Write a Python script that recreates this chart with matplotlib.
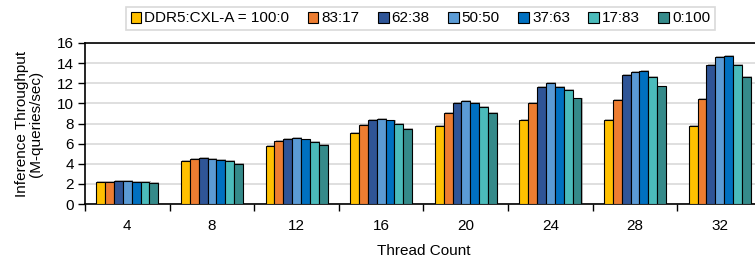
import matplotlib
matplotlib.use("Agg")
import matplotlib.pyplot as plt
import matplotlib.patheffects as pe
import numpy as np

plt.rcParams['font.family'] = ['Liberation Sans', 'DejaVu Sans']

threads = ["4", "8", "12", "16", "20", "24", "28", "32"]
series_names = ["DDR5:CXL-A = 100:0", "83:17", "62:38", "50:50", "37:63", "17:83", "0:100"]
colors = ["#FFC000", "#ED7D31", "#2F5597", "#5B9BD5", "#0070C0", "#4BBBBB", "#358A8A"]

r100_0 = [2.16, 4.29, 5.75, 7.04, 7.77, 8.34, 8.34, 7.77]
r83_17 = [2.23, 4.49, 6.25, 7.87, 9.04, 10.03, 10.33, 10.47]
r62_38 = [2.26, 4.55, 6.48, 8.34, 10.03, 11.63, 12.86, 13.82]
r50_50 = [2.26, 4.49, 6.54, 8.47, 10.23, 12.03, 13.09, 14.65]
r37_63 = [2.19, 4.39, 6.41, 8.31, 10.03, 11.66, 13.19, 14.72]
r17_83 = [2.16, 4.29, 6.18, 7.94, 9.67, 11.30, 12.62, 13.79]
r0_100 = [2.06, 3.99, 5.91, 7.44, 9.07, 10.50, 11.69, 12.62]
series = [r100_0, r83_17, r62_38, r50_50, r37_63, r17_83, r0_100]

fig = plt.figure(figsize=(7.55, 2.57), dpi=100)
ax = fig.add_axes([85/755, 1-204/257, (762-85)/755, (204-43)/257])

x = np.arange(len(threads))
n = len(series)
w = 0.1047
shadow = [pe.SimplePatchShadow(offset=(0.8, 0.6), shadow_rgbFace='#707070', alpha=0.5), pe.Normal()]
for i, (vals, name, c) in enumerate(zip(series, series_names, colors)):
    pos = x + (i - (n - 1) / 2) * w
    bars = ax.bar(pos, vals, width=w, color=c, edgecolor='black', linewidth=0.8,
                  label=name, zorder=3)
    for b in bars:
        b.set_path_effects(shadow)

ax.set_xlim(-0.5, len(threads) - 0.5)
ax.set_ylim(0, 16)
ax.set_yticks(np.arange(0, 17, 2))
ax.yaxis.grid(True, color='#d9d9d9', linewidth=1.2, zorder=0)
ax.set_axisbelow(True)

ax.set_xticks(np.arange(-0.5, len(threads), 1.0))
ax.set_xticklabels([])
ax.set_xticks(x, minor=True)
ax.set_xticklabels(threads, minor=True)
ax.tick_params(axis='x', which='major', length=5, width=1, color='black', direction='out')
ax.tick_params(axis='x', which='minor', length=0, pad=11, labelsize=11)
ax.tick_params(axis='y', length=5, width=1, labelsize=11, pad=3)

for s in ['left', 'top', 'bottom']:
    ax.spines[s].set_color('black')
    ax.spines[s].set_linewidth(1.2)
ax.spines['right'].set_visible(False)

ax.set_ylabel("Inference Throughput\n(M-queries/sec)", fontsize=11, labelpad=10, linespacing=1.0)
ax.set_xlabel("Thread Count", fontsize=11, labelpad=8)

leg = fig.legend(loc='center', bbox_to_anchor=(420.5/755, 1-18.5/257), ncol=7, fontsize=11,
                 frameon=True, fancybox=False, edgecolor='#d0d0d0', handlelength=0.7,
                 handleheight=0.7, handletextpad=0.2, columnspacing=1.2, borderpad=0.3,
                 borderaxespad=0)
leg.get_frame().set_linewidth(1.2)
for h in leg.legend_handles:
    h.set_path_effects([])

fig.savefig("out.png", dpi=100)
